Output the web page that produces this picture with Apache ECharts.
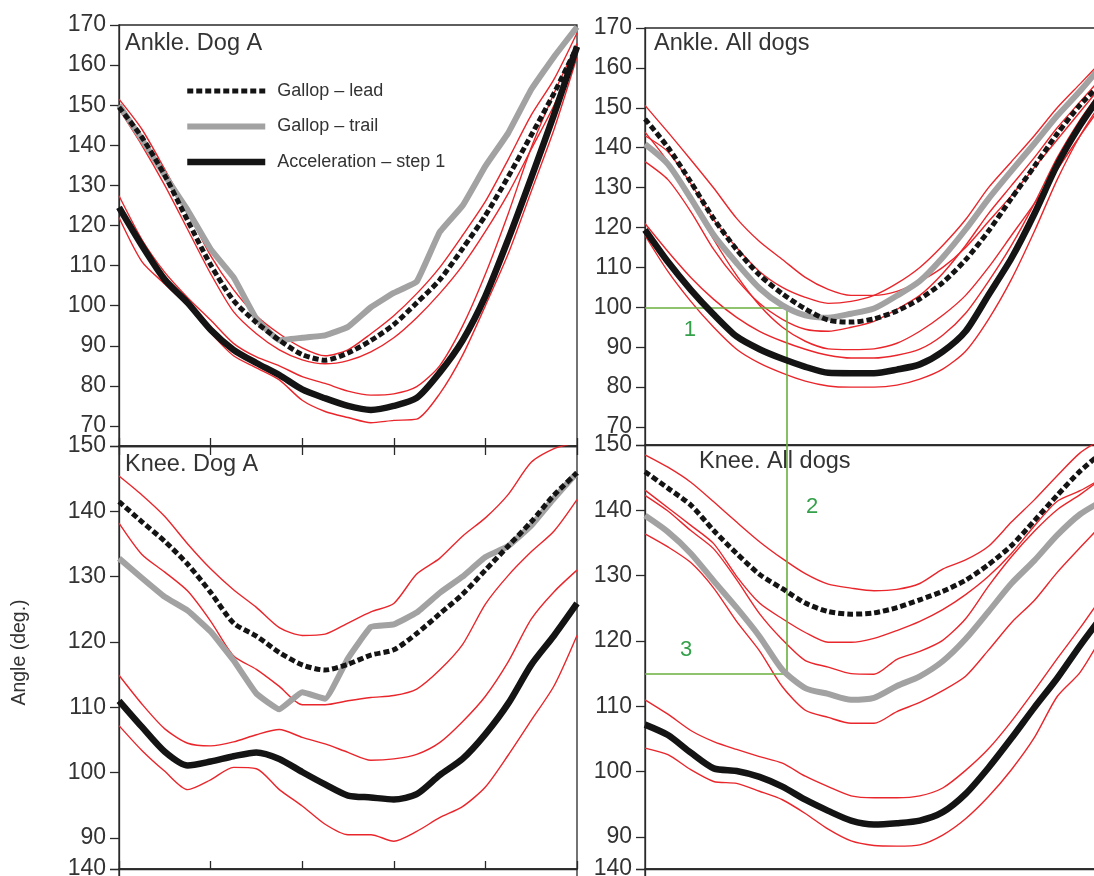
<!DOCTYPE html>
<html><head><meta charset="utf-8">
<script src="https://cdn.jsdelivr.net/npm/echarts@6/dist/echarts.min.js"></script>
<style>html,body{margin:0;padding:0;background:#fff}#c{width:1094px;height:876px}</style>
</head><body><div id="c"></div><script>
// ---- data (x = % of stride, y = angle in degrees) ----
const pct = [0,5,10,15,20,25,30,35,40,45,50,55,60,65,70,75,80,85,90,95,100];
const LEAD = 'Gallop – lead', TRAIL = 'Gallop – trail', ACC = 'Acceleration – step 1';
const titles = ['Ankle. Dog A', 'Ankle. All dogs', 'Knee. Dog A', 'Knee. All dogs'];
const yName = 'Angle (deg.)';

// Ankle, Dog A
const tlLead    = [149.5,142,132.5,121.2,110.2,101.3,95.8,91.4,87.8,86.4,88.2,91.3,95.3,100.7,106.4,114.2,122.5,132.2,142.5,153,164.6];
const tlLeadHi  = [151.5,144,134,123.5,112.5,104,97.5,93,89.5,87.5,89,93,97.5,103,109.5,117.5,126,136.5,147.5,156.5,168];
const tlLeadLo  = [149,140,130,119,108,98.5,93,89,86.5,85.5,86.3,88.5,92,97,103,110,118.5,128,139,150,163];
const tlTrail   = [150,141.5,132.5,123.8,114.1,107.1,96.7,91.4,92,92.6,94.7,99.6,103.2,106,118.3,124.9,134.8,143.1,153.9,162.1,169.5];
const tlAcc     = [124.5,115,106.5,100.7,94,89,85.7,82.7,79.1,76.9,75,74,75,77,83.3,91.3,102.4,116.6,131.9,147.7,164.6];
const tlAccHi   = [127.4,116.5,108.3,102,96.4,90.6,87.2,85,82.3,80.6,78.7,77.7,78,79.8,85,94.9,107.9,123,139.4,153,165.4];
const tlAccLo   = [122,111,105.4,99.9,93.2,87.5,84.5,81.5,76.4,73.6,72.1,70.8,71.4,71.7,78,87.6,100,113,128.5,144,162];

// Ankle, All dogs
const trLead    = [147.2,140.1,131.4,122.2,114.5,108.1,103.4,99.6,96.8,96.3,97.1,99.1,102.1,106.2,111.9,119.1,127.3,135.3,143.5,150.7,156.5];
const trLeadHi  = [150.6,143.9,137,129.9,122.3,116.5,112,107.5,104.5,103,103,104,106.5,110,115,121.5,128,135,142,149,156];
const trLeadLo  = [143.9,136.5,127,117,108,100.5,95,91.5,89.6,89.4,89.6,91,94,98,103,110,118,126,134.5,143,151];
const trTrail   = [140.9,135.9,127.3,118.1,111.1,104.8,100.5,98,97.4,98.4,99.7,102.9,106.6,112.5,119.5,127.2,134.2,141,148,154.2,161];
const trTrailHi = [143,139,131,122,115,109,105,102.5,101,101.5,103,106,110,115.5,122,130,136.5,143,150,156,162];
const trTrailLo = [136.5,132,124,114.5,107,101,97,94.5,94,95,96.5,99.5,103,108.5,115.5,123.5,130.5,137.5,145,151.5,158];
const trAcc     = [119.4,111.4,104.4,98.2,92.7,89.5,87.1,85.1,83.6,83.5,83.5,84.4,85.7,88.9,94,103.1,112.3,123.4,135.7,145.6,154];
const trAccHi   = [121,114,107.5,102,97.5,94,91.5,89.5,88,87.3,87.3,88,89.5,93,98.5,106.5,115.5,126,137.5,147,155];
const trAccLo   = [118,109,101.5,95,89.5,86,83.5,81.5,80.3,80,80,80.5,82,84.5,89,97,107,119,132,143,152];

// Knee, Dog A
const blLead    = [141.5,138.4,135.4,131.9,127.6,122.9,120.9,118.4,116.5,115.7,116.6,118,118.8,121.3,124.3,127.3,131,134.7,138.4,142.5,145.9];
const blLeadHi  = [145.4,142.5,139.2,135,131.2,128,125.3,122.2,121,121.2,122.9,124.6,125.9,130.4,132.8,136.2,139,142.6,147.5,149.6,150.5];
const blLeadLo  = [138.2,133.4,130.7,127.8,123.2,117.9,115.8,113.2,110.4,110.4,111,111.5,111.8,112.8,115.7,119.6,125.8,130.2,133.8,137,141.8];
const blTrail   = [132.8,129.8,126.9,124.8,121.6,117.2,112.1,109.7,112.3,111.3,117.5,122.3,122.7,124.5,127.5,130,133,134.7,137.8,142,145.9];
const blAcc     = [111,107,103.2,101.1,101.7,102.5,103.1,102.1,100.1,98.2,96.5,96.2,95.9,96.7,99.6,102.1,105.9,110.6,116.5,121,125.9];
const blAccHi   = [114.9,110.5,106.7,104.5,104.1,104.7,105.8,106.6,105.4,104.4,103.1,101.9,102.1,102.8,104.6,107.8,111.7,117,123.5,127.7,131];
const blAccLo   = [107.2,103.4,100.2,97.4,98.9,100.8,100.6,97.4,94.9,92.1,90.5,90.5,89.5,91,93.1,94.8,97.8,102.7,108,113.3,121];

// Knee, All dogs
const brLead    = [145.9,143.4,140.8,136.9,133.4,130.2,128,125.8,124.5,124.1,124.3,125.1,126.3,127.6,129.3,131.7,134.6,138.4,142.3,146,149];
const brLeadHi  = [148.5,146.6,144.3,141.3,138.2,135.2,132.6,130.3,128.7,128.1,127.7,127.9,128.8,131,132.4,134.5,138.2,141.6,145.3,148.8,151];
const brLeadLo  = [143.1,140.4,137.7,134.9,129.9,125.8,123.4,121.3,119.8,119.8,120.4,121.6,123,124.8,127.1,129.9,133.4,137.6,141.4,143,145];
const brTrail   = [139.2,136.7,133.4,129.2,125.1,120.7,115.6,112.8,111.9,111,111.3,113.1,114.6,116.9,120.3,124.5,128.8,132.3,136.2,139.4,141.5];
const brTrailHi = [142.3,139.9,136.9,134.1,129.4,124.2,120.2,117,116,115,114.9,117.2,118.4,120.1,123.4,128.4,132.9,136.8,140.1,142.4,145];
const brTrailLo = [136.4,134.4,132,128.1,123,118.5,113,109.4,108.3,107.4,107.4,109.2,110.6,112.4,114.6,118.6,122.8,126.2,130.5,134.3,138];
const brAcc     = [107.2,105.6,102.9,100.5,100.1,99.2,97.7,95.7,94,92.5,91.9,92.1,92.5,93.8,96.6,100.6,105.1,109.8,114.3,119.3,124];
const brAccHi   = [111,108.8,106.3,104.6,103.4,102.3,101.3,99.3,97.7,96.3,96,96,96.3,97.5,100.2,103.5,107.7,112.4,117.3,122,127];
const brAccLo   = [103.6,102.6,100.3,98.5,98.2,97,95.7,93.6,91.2,89.4,88.7,88.6,88.8,90.3,92.8,96.2,100.3,105.2,111.5,115.2,121];

// green annotations (x in %, y in degrees)
const annotX = 31, annotAnkle = 100, annotKnee = 115;
const annotLabels = [['1', 9.8, 94.3], ['2', 36.5, 140.5], ['3', 9, 118.6]];

// ---- layout ----
const FONT = '"Liberation Sans", Arial, Helvetica, sans-serif';
const INK = '#2a2a2a';
const gridBoxes = [
  {left:119, top:25,  width:458, height:421},
  {left:645, top:28,  width:458, height:417},
  {left:119, top:446, width:458, height:423},
  {left:645, top:445, width:458, height:424},
  {left:119, top:869, width:458, height:300},
  {left:645, top:869, width:458, height:300}
];
const yRanges = [[65,170,10],[65.5,170,10],[85.25,150,6],[85.1,150,6],[80,140,6],[80,140,6]];

const grid = gridBoxes.map(b => Object.assign({show:true, borderColor:INK, borderWidth:1.3,
  backgroundColor:'transparent', containLabel:false, outerBoundsMode:'none'}, b));

const xAxis = gridBoxes.map((b, i) => ({
  gridIndex:i, type:'value', min:0, max:100, interval:20,
  axisLine:{show:true, onZero:false, lineStyle:{color:INK, width:1.3}},
  axisTick:{show:(i === 0 || i === 2), inside:true, length:8, lineStyle:{color:INK, width:1.3}},
  axisLabel:{show:false}, splitLine:{show:false}
}));
xAxis.push({gridIndex:2, type:'value', position:'top', min:0, max:100, interval:20,
  axisLine:{show:true, onZero:false, lineStyle:{color:INK, width:1.3}},
  axisTick:{show:true, inside:true, length:9, lineStyle:{color:INK, width:1.3}},
  axisLabel:{show:false}, splitLine:{show:false}});

const yAxis = yRanges.map((r, i) => ({
  gridIndex:i, type:'value', min:r[0], max:r[1], splitNumber:r[2],
  axisLine:{show:true, onZero:false, lineStyle:{color:INK, width:1.3}},
  axisTick:{show:true, inside:false, length:9, lineStyle:{color:INK, width:1.3}},
  axisLabel:{show:true, fontSize:23, color:'#333', fontFamily:FONT, margin:13,
    formatter: v => (Math.abs(v - Math.round(v / 10) * 10) < 1e-6 ? String(Math.round(v)) : '')},
  splitLine:{show:false},
  name: i === 2 ? yName : '', nameLocation:'middle', nameGap:89,
  nameTextStyle:{fontSize:19.5, color:'#333', fontFamily:FONT, padding:[0,0,0,10]}
}));

const STY = {
  lead:  {color:'#141414', width:5, type:[6,3], z:6},
  trail: {color:'#a2a2a2', width:6, type:'solid', z:5},
  acc:   {color:'#141414', width:6.5, type:'solid', z:6},
  band:  {color:'#e8262b', width:1.4, type:'solid', z:3}
};
function mk(name, arr, gi, kind, extra) {
  const s = STY[kind];
  return Object.assign({
    type:'line', name:name, xAxisIndex:gi, yAxisIndex:gi,
    data: pct.map((x, k) => [x, arr[k]]),
    symbol:'none', symbolSize:0, showSymbol:false, smooth:0.25, z:s.z, animation:false, silent:true,
    lineStyle:{color:s.color, width:s.width, type:s.type, cap:'butt', join:'round'},
    itemStyle:{color:s.color}
  }, extra || {});
}
const GREEN_LINE = '#6aaf3e', GREEN_TEXT = '#34a04a';
const mlStyle = {symbol:['none','none'], silent:true, animation:false,
  lineStyle:{color:GREEN_LINE, width:1.6, type:'solid'}, label:{show:false}};
function mp(lbl) {
  return {symbol:'circle', symbolSize:1, silent:true, animation:false, itemStyle:{color:'rgba(0,0,0,0)'},
    label:{show:true, position:'inside', color:GREEN_TEXT, fontSize:22, fontFamily:FONT, formatter:lbl[0]},
    data:[{coord:[lbl[1], lbl[2]]}]};
}

const series = [
  // Ankle Dog A
  mk('sd', tlLeadHi, 0, 'band'), mk('sd', tlLeadLo, 0, 'band'),
  mk('sd', tlAccHi, 0, 'band'), mk('sd', tlAccLo, 0, 'band'),
  mk(TRAIL, tlTrail, 0, 'trail', {smooth:0.1}), mk(LEAD, tlLead, 0, 'lead'), mk(ACC, tlAcc, 0, 'acc'),
  // Ankle All dogs
  mk('sd', trLeadHi, 1, 'band'), mk('sd', trLeadLo, 1, 'band'),
  mk('sd', trTrailHi, 1, 'band'), mk('sd', trTrailLo, 1, 'band'),
  mk('sd', trAccHi, 1, 'band'), mk('sd', trAccLo, 1, 'band'),
  mk(TRAIL, trTrail, 1, 'trail'),
  mk(LEAD, trLead, 1, 'lead', {
    markLine:Object.assign({data:[[{coord:[0, annotAnkle]}, {coord:[annotX, annotAnkle]}],
                                  [{coord:[annotX, annotAnkle]}, {coord:[annotX, yRanges[1][0]]}]]}, mlStyle),
    markPoint: mp(annotLabels[0])}),
  mk(ACC, trAcc, 1, 'acc'),
  // Knee Dog A
  mk('sd', blLeadHi, 2, 'band'), mk('sd', blLeadLo, 2, 'band'),
  mk('sd', blAccHi, 2, 'band'), mk('sd', blAccLo, 2, 'band'),
  mk(TRAIL, blTrail, 2, 'trail', {smooth:0.1}), mk(LEAD, blLead, 2, 'lead'), mk(ACC, blAcc, 2, 'acc'),
  // Knee All dogs
  mk('sd', brLeadHi, 3, 'band'), mk('sd', brLeadLo, 3, 'band'),
  mk('sd', brTrailHi, 3, 'band'), mk('sd', brTrailLo, 3, 'band'),
  mk('sd', brAccHi, 3, 'band'), mk('sd', brAccLo, 3, 'band'),
  mk(TRAIL, brTrail, 3, 'trail', {
    markLine:Object.assign({data:[[{coord:[annotX, yRanges[3][1]]}, {coord:[annotX, annotKnee]}],
                                  [{coord:[0, annotKnee]}, {coord:[annotX, annotKnee]}]]}, mlStyle)}),
  mk(LEAD, brLead, 3, 'lead', {markPoint: mp(annotLabels[1])}),
  mk(ACC, brAcc, 3, 'acc', {markPoint: mp(annotLabels[2])})
];

const titlePos = [[125,32],[654,32],[125,453],[699,450]];
const title = titles.map((t, i) => ({text:t, left:titlePos[i][0], top:titlePos[i][1], padding:0,
  textStyle:{fontSize:23.5, fontWeight:'normal', color:'#333', fontFamily:FONT}}));

const chart = echarts.init(document.getElementById('c'), null, {renderer:'canvas'});
chart.setOption({
  backgroundColor:'#ffffff',
  animation:false,
  title: title,
  grid: grid, xAxis: xAxis, yAxis: yAxis,
  legend: {
    orient:'vertical', left:179, top:77, itemWidth:78, itemHeight:14, itemGap:17.5,
    selectedMode:false,
    data:[LEAD, TRAIL, ACC],
    lineStyle:{width:'inherit'},
    itemStyle:{color:'rgba(0,0,0,0)', borderColor:'rgba(0,0,0,0)', borderWidth:0, opacity:0},
    textStyle:{fontSize:18, color:'#333', fontFamily:FONT, padding:[0,0,0,7]}
  },
  series: series
});
</script></body></html>
